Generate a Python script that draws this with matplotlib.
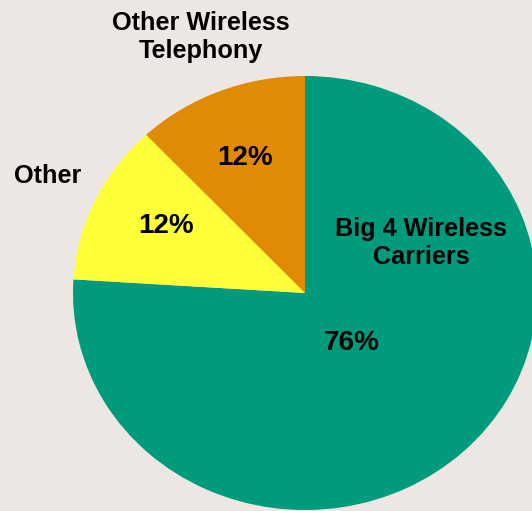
import matplotlib.pyplot as plt

plt.rcParams['font.family'] = ['Liberation Sans', 'DejaVu Sans']

labels = ['Big 4 Wireless\nCarriers', 'Other', 'Other Wireless\nTelephony']
shares = [76, 12, 12]
colors = ['#009B7D', '#FFFF38', '#E08A05']
bg = '#ECE7E2'

# label and percent positions (data units of the pie)
label_pos = [(0.50, 0.23), (-1.11, 0.54), (-0.45, 1.18)]
pct_pos = [(0.20, -0.23), (-0.60, 0.31), (-0.26, 0.62)]


def main():
    fig = plt.figure(figsize=(5.32, 5.11), dpi=100, facecolor=bg)
    ax = fig.add_axes([0, 0, 1, 1])
    ax.set_facecolor(bg)
    ax.pie(shares, colors=colors, startangle=90, counterclock=False,
           wedgeprops={'linewidth': 0})
    ax.set_aspect('auto')
    ax.set_xlim(-305 / 232, 227 / 232)
    ax.set_ylim(-218 / 217, 293 / 217)
    ax.axis('off')

    for lab, (x, y) in zip(labels, label_pos):
        ax.text(x, y, lab, ha='center', va='center', fontsize=18.2,
                fontweight='bold', linespacing=1.22)
    for val, (x, y) in zip(shares, pct_pos):
        ax.text(x, y, f'{val}%', ha='center', va='center', fontsize=20,
                fontweight='bold')

    fig.savefig('out.png', dpi=100, facecolor=bg)


if __name__ == '__main__':
    main()
